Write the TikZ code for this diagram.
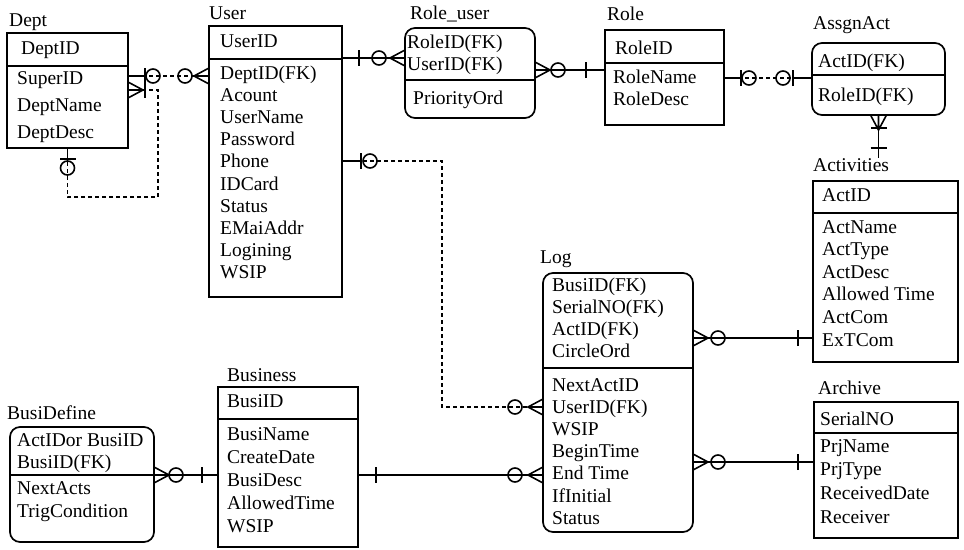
\documentclass[tikz,border=0pt]{standalone}
\usepackage{fontspec}
\setmainfont{Liberation Serif}
\usepackage{tikz}
\usetikzlibrary{calc}
\def\fields(#1)(#2,#3:#4)#5{\foreach \f [count=\i] in {#5} {\node[fld] (#1-\i) at (#2, {#3+#4*(\i-1)}) {\f};}}

\begin{document}
\begin{tikzpicture}[x=1pt, y=-1pt,
	ent/.style={draw, line width=1.7pt, inner sep=0pt, outer sep=0pt, anchor=north west},
	wk/.style={ent, rounded corners=10pt},
	div/.style={line width=1.7pt},
	fld/.style={inner sep=0pt, anchor=base west, font=\fontsize{19.5}{22}\selectfont},
	rel/.style={line width=1.6pt},
	nid/.style={line width=1.3pt, dash pattern=on 4pt off 3pt},
	crow/.pic={\draw[rel] (0,-8) -- (15,0) -- (0,8) (0,0) -- (15,0);},
	one/.pic={\draw[rel] (0,0) -- (#1,0) (#1,-8) -- (#1,8);},
	zero/.pic={\draw[rel] (#1,0) circle (7);}]
			%%%%% START %%%%%
			\path[use as bounding box, fill=white] (0,0) rectangle (964,549);
			
			\node[ent, minimum width=121, minimum height=115] (dept) at (7,33) {};
			\draw[div] ([yshift=-33pt]dept.north west) -- ([yshift=-33pt]dept.north east);
			\node[fld] (dept-t) at (9,26) {Dept};
			\fields(deptk)(21,54:0){DeptID}
			\fields(dept)(17,84:27){SuperID,DeptName,DeptDesc}
			
			\node[ent, minimum width=133, minimum height=271] (user) at (209,26) {};
			\draw[div] ([yshift=-33pt]user.north west) -- ([yshift=-33pt]user.north east);
			\node[fld] (user-t) at (209,19) {User};
			\fields(userk)(220,47:0){UserID}
			\fields(user)(220,79:22.2){DeptID(FK),Acount,UserName,Password,Phone,IDCard,Status,EMaiAddr,Logining,WSIP}
			
			\node[wk, minimum width=130, minimum height=90] (roleuser) at (405,28) {};
			\draw[div] ([yshift=-52pt]roleuser.north west) -- ([yshift=-52pt]roleuser.north east);
			\node[fld] (roleuser-t) at (410,19) {Role\_user};
			\fields(roleuserk)(407,48:22){RoleID(FK),UserID(FK)}
			\fields(roleuser)(413,104:0){PriorityOrd}
			
			\node[ent, minimum width=119, minimum height=95] (role) at (605,30) {};
			\draw[div] ([yshift=-33pt]role.north west) -- ([yshift=-33pt]role.north east);
			\node[fld] (role-t) at (607,20) {Role};
			\fields(rolek)(615,54:0){RoleID}
			\fields(role)(613,83:22){RoleName,RoleDesc}
			
			\node[wk, minimum width=133, minimum height=72] (assgn) at (812,43) {};
			\draw[div] ([yshift=-32pt]assgn.north west) -- ([yshift=-32pt]assgn.north east);
			\node[fld] (assgn-t) at (813,29) {AssgnAct};
			\fields(assgnk)(818,67:0){ActID(FK)}
			\fields(assgn)(818,101:0){RoleID(FK)}
			
			\node[ent, minimum width=145, minimum height=181] (act) at (813,181) {};
			\draw[div] ([yshift=-32pt]act.north west) -- ([yshift=-32pt]act.north east);
			\node[fld] (act-t) at (813,171) {Activities};
			\fields(actk)(822,201:0){ActID}
			\fields(act)(822,233:22.6){ActName,ActType,ActDesc,Allowed Time,ActCom,ExTCom}
			
			\node[wk, minimum width=150, minimum height=259] (log) at (543,273) {};
			\draw[div] ([yshift=-95pt]log.north west) -- ([yshift=-95pt]log.north east);
			\node[fld] (log-t) at (540,263) {Log};
			\fields(logk)(552,291:22.3){BusiID(FK),SerialNO(FK),ActID(FK),CircleOrd}
			\fields(log)(552,391:22.2){NextActID,UserID(FK),WSIP,BeginTime,End Time,IfInitial,Status}
			
			\node[ent, minimum width=144, minimum height=136] (archive) at (814,402) {};
			\draw[div] ([yshift=-31pt]archive.north west) -- ([yshift=-31pt]archive.north east);
			\node[fld] (archive-t) at (818,394) {Archive};
			\fields(archivek)(820,425:0){SerialNO}
			\fields(archive)(820,452:23.7){PrjName,PrjType,ReceivedDate,Receiver}
			
			\node[ent, minimum width=140, minimum height=160] (busi) at (218,387) {};
			\draw[div] ([yshift=-32pt]busi.north west) -- ([yshift=-32pt]busi.north east);
			\node[fld] (busi-t) at (227,381) {Business};
			\fields(busik)(227,407:0){BusiID}
			\fields(busi)(227,440:23){BusiName,CreateDate,BusiDesc,AllowedTime,WSIP}
			
			\node[wk, minimum width=144, minimum height=115] (bdef) at (10,427) {};
			\draw[div] ([yshift=-48pt]bdef.north west) -- ([yshift=-48pt]bdef.north east);
			\node[fld] (bdef-t) at (7,419) {BusiDefine};
			\fields(bdefk)(17,446:22){ActIDor BusiID,BusiID(FK)}
			\fields(bdef)(17,494:23){NextActs,TrigCondition}
			
			% Dept - User
			\coordinate (du) at ([yshift=-43pt]dept.north east);
			\draw[nid] (du) -- (user.west |- du);
			\pic at (du) {one=17};
			\pic at (du) {zero=25};
			\pic[rotate=180] at (user.west |- du) {crow};
			\pic[rotate=180] at (user.west |- du) {zero=24};
			
			% Dept - Dept
			\coordinate (ds) at ([yshift=-57pt]dept.north east);
			\draw[nid] (ds) -- ++(30,0) |- ([yshift=-49pt]dept.south) -- (dept.south);
			\pic at (ds) {crow};
			\pic at (ds) {one=17};
			\pic[rotate=-90] at (dept.south) {one=11};
			\pic[rotate=-90] at (dept.south) {zero=20};
			
			% User - Role_user
			\coordinate (ur) at ([yshift=-32pt]user.north east);
			\draw[rel] (ur) -- (roleuser.west |- ur);
			\pic at (ur) {one=17};
			\pic[rotate=180] at (roleuser.west |- ur) {crow};
			\pic[rotate=180] at (roleuser.west |- ur) {zero=26};
			
			% Role_user - Role
			\coordinate (rr) at ([yshift=-42pt]roleuser.north east);
			\draw[rel] (rr) -- (role.west |- rr);
			\pic at (rr) {crow};
			\pic at (rr) {zero=23};
			\pic[rotate=180] at (role.west |- rr) {one=19};
			
			% Role - AssgnAct
			\coordinate (ra) at ([yshift=-48pt]role.north east);
			\draw[nid] (ra) -- (assgn.west |- ra);
			\pic at (ra) {one=17};
			\pic at (ra) {zero=25};
			\pic[rotate=180] at (assgn.west |- ra) {one=19};
			\pic[rotate=180] at (assgn.west |- ra) {zero=29};
			
			% AssgnAct - Activities
			\draw[rel] (assgn.south) -- (assgn.south |- act-t.north);
			\pic[rotate=-90] at (assgn.south) {crow};
			\pic[rotate=-90] at (assgn.south) {one=13};
			\pic[rotate=90] at (assgn.south |- act-t.north) {one=10};
			
			% User - Log
			\coordinate (ul) at ([yshift=-135pt]user.north east);
			\coordinate (lu) at ([yshift=-134pt]log.north west);
			\draw[nid] (ul) -- ++(100,0) |- (lu);
			\pic at (ul) {one=19};
			\pic at (ul) {zero=28};
			\pic[rotate=180] at (lu) {crow};
			\pic[rotate=180] at (lu) {zero=28};
			
			% Business - Log
			\coordinate (bl) at ([yshift=-88pt]busi.north east);
			\draw[rel] (bl) -- (log.west |- bl);
			\pic at (bl) {one=18};
			\pic[rotate=180] at (log.west |- bl) {crow};
			\pic[rotate=180] at (log.west |- bl) {zero=28};
			
			% BusiDefine - Business
			\coordinate (db) at ([yshift=-48pt]bdef.north east);
			\draw[rel] (db) -- (busi.west |- db);
			\pic at (db) {crow};
			\pic at (db) {zero=22};
			\pic[rotate=180] at (busi.west |- db) {one=16};
			
			% Log - Activities
			\coordinate (la) at ([yshift=-65pt]log.north east);
			\draw[rel] (la) -- (act.west |- la);
			\pic at (la) {crow};
			\pic at (la) {zero=25};
			\pic[rotate=180] at (act.west |- la) {one=15};
			
			% Log - Archive
			\coordinate (lr) at ([yshift=-189pt]log.north east);
			\draw[rel] (lr) -- (archive.west |- lr);
			\pic at (lr) {crow};
			\pic at (lr) {zero=25};
			\pic[rotate=180] at (archive.west |- lr) {one=16};
			
			%%%%% END %%%%%
\end{tikzpicture}
\end{document}
